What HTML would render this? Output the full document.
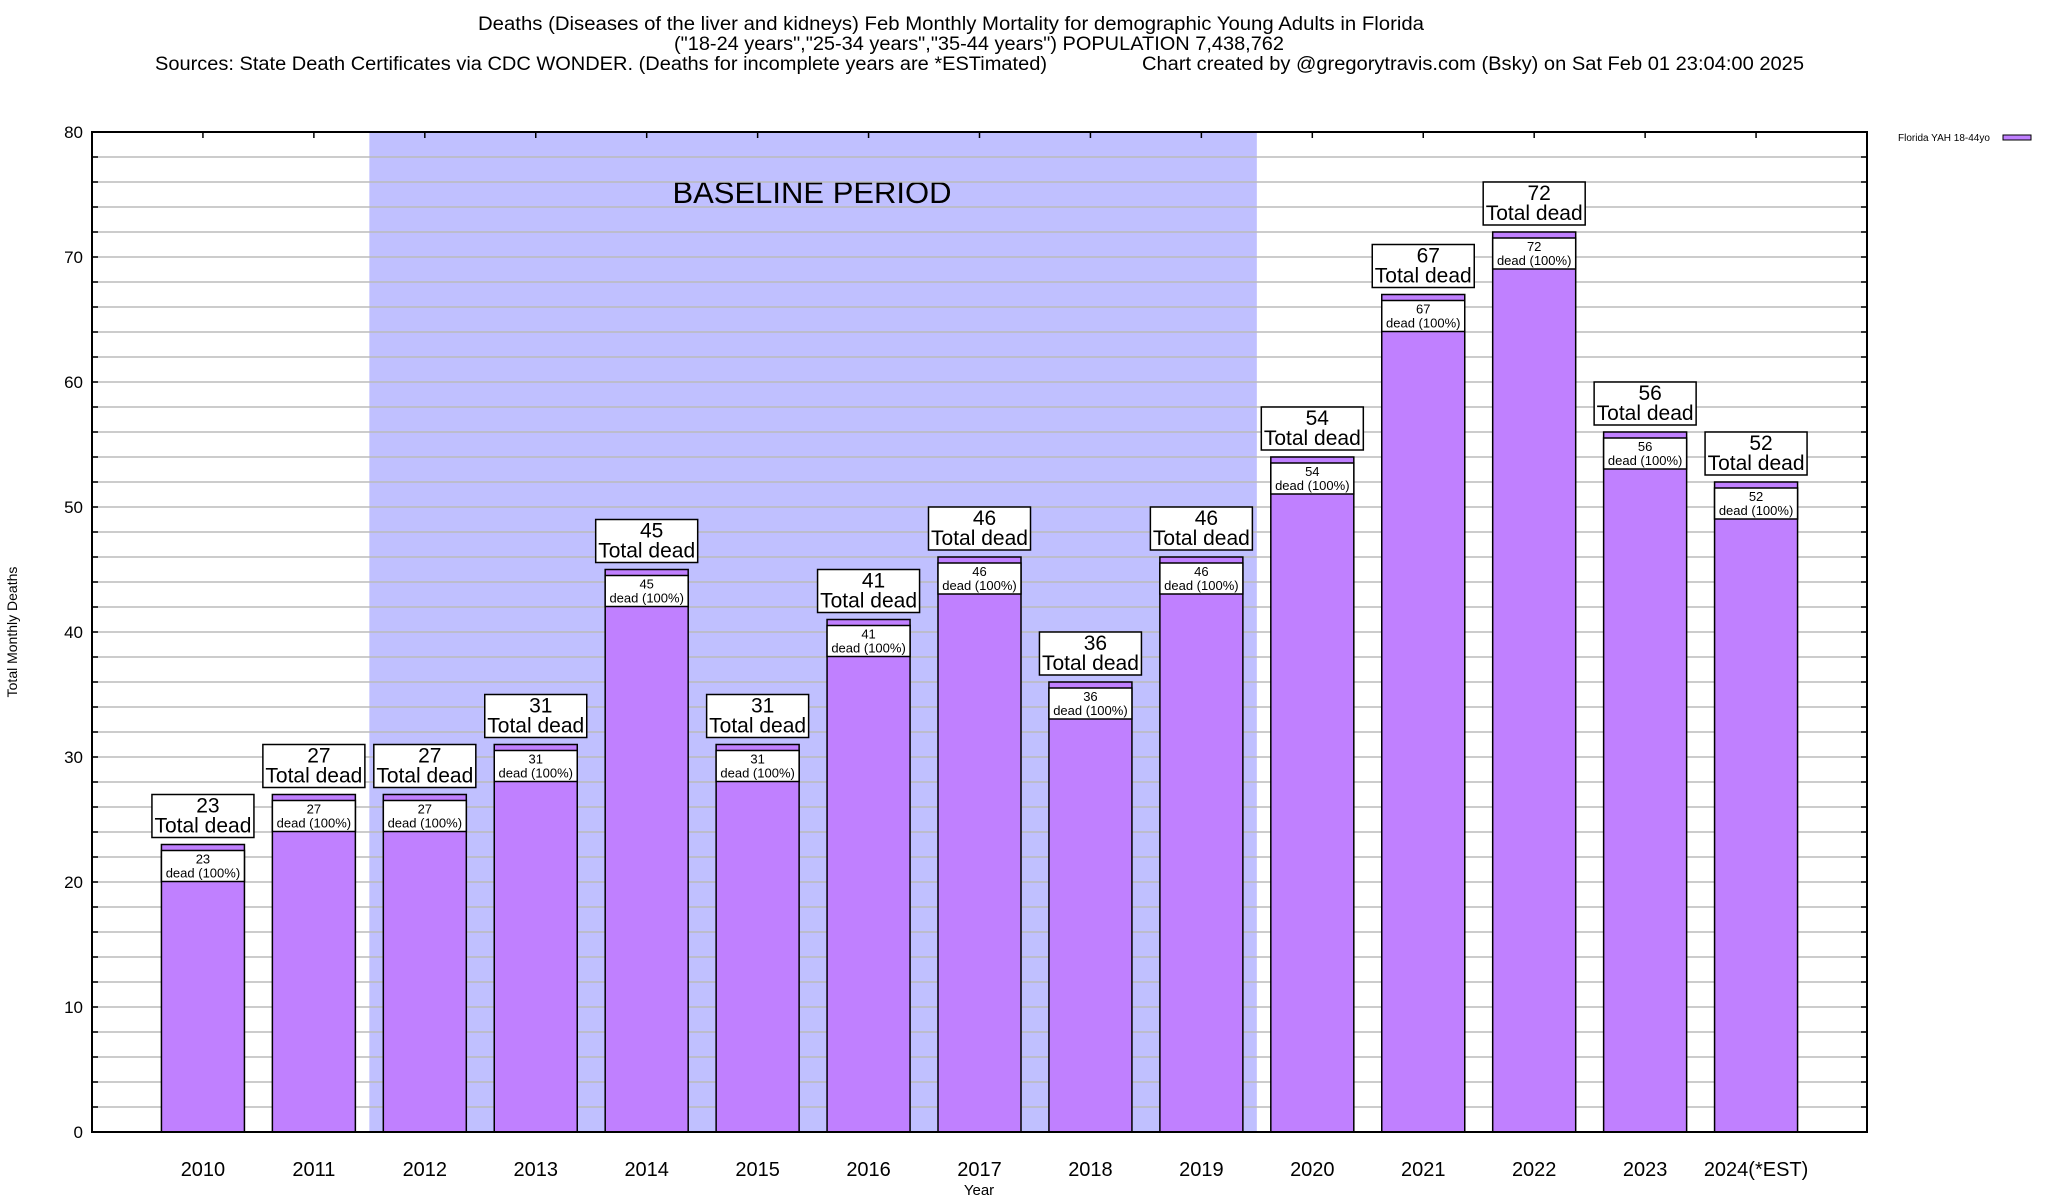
<!DOCTYPE html>
<html><head><meta charset="utf-8"><style>
html,body{margin:0;padding:0;background:#fff}
svg{display:block;font-family:"Liberation Sans",Arial,sans-serif}
</style></head><body>
<svg id="chart" width="2048" height="1200" viewBox="0 0 2048 1200" xmlns="http://www.w3.org/2000/svg">
<g>
<text x="951" y="30" font-size="19" text-anchor="middle" textLength="946" lengthAdjust="spacingAndGlyphs">Deaths (Diseases of the liver and kidneys) Feb Monthly Mortality for demographic Young Adults in Florida</text>
<text x="979" y="50" font-size="19" text-anchor="middle" textLength="610" lengthAdjust="spacingAndGlyphs">("18-24 years","25-34 years","35-44 years") POPULATION 7,438,762</text>
<text x="155" y="70" font-size="19" textLength="892" lengthAdjust="spacingAndGlyphs">Sources: State Death Certificates via CDC WONDER. (Deaths for incomplete years are *ESTimated)</text>
<text x="1142" y="70" font-size="19" textLength="662" lengthAdjust="spacingAndGlyphs">Chart created by @gregorytravis.com (Bsky) on Sat Feb 01 23:04:00 2025</text>
</g>
<g id="shade"></g>
<g id="grid"></g>
<g id="bars"></g>
<g id="axes"></g>
<text x="17" y="632" font-size="14" text-anchor="middle" transform="rotate(-90 17 632)">Total Monthly Deaths</text>
<text x="979" y="1195" font-size="15" text-anchor="middle">Year</text>
<g>
<text x="1898" y="141" font-size="10">Florida YAH 18-44yo</text>
<rect x="2003" y="135" width="28" height="5" fill="#c080ff" stroke="#000" stroke-width="1"/>
</g>
</svg>
<script>
const categories=["2010","2011","2012","2013","2014","2015","2016","2017","2018","2019","2020","2021","2022","2023","2024(*EST)"];
const deaths=[23,27,27,31,45,31,41,46,36,46,54,67,72,56,52];
const yTicks=[0,10,20,30,40,50,60,70,80];
const baselineStart=2, baselineEnd=9;

const NS="http://www.w3.org/2000/svg";
const L=92,R=1867,T=132,B=1132,YMAX=80,STEP=(R-L)/16,BW=83;
const xc=i=>L+(i+1)*STEP;
const y=v=>B-(B-T)*v/YMAX;
function mk(p,tag,attrs,txt){const e=document.createElementNS(NS,tag);for(const k in attrs)e.setAttribute(k,attrs[k]);if(txt!==undefined)e.textContent=txt;p.appendChild(e);return e;}
const shade=document.getElementById('shade'),grid=document.getElementById('grid'),bars=document.getElementById('bars'),axes=document.getElementById('axes');

let sh=mk(shade,'rect',{x:xc(baselineStart-0.5),y:T,width:xc(baselineEnd+0.5)-xc(baselineStart-0.5),height:B-T,fill:'#c0c0ff'});


let bt=mk(shade,'text',{x:812,y:203,'font-size':31,'text-anchor':'middle'},'BASELINE PERIOD');



for(let v=2;v<YMAX;v+=2){
  let g=mk(grid,'line',{x1:L,x2:R,y1:y(v),y2:y(v),stroke:'#bbb','stroke-width':1.5});
  
  
  mk(axes,'line',{x1:L,x2:L+6,y1:y(v),y2:y(v),stroke:'#000','stroke-width':1.5});
  mk(axes,'line',{x1:R-6,x2:R,y1:y(v),y2:y(v),stroke:'#000','stroke-width':1.5});
}
let fr=mk(axes,'rect',{x:L,y:T,width:R-L,height:B-T,fill:'none',stroke:'#000','stroke-width':2});


yTicks.forEach(v=>{
  let t=mk(axes,'text',{x:83,y:y(v)+6,'font-size':17,'text-anchor':'end'},String(v));
  
  
});
categories.forEach((c,i)=>{
  mk(axes,'line',{x1:xc(i),x2:xc(i),y1:T,y2:T+6,stroke:'#000','stroke-width':1.5});
  let t=mk(axes,'text',{x:xc(i),y:1176,'font-size':20,'text-anchor':'middle'},c);
  
  
});

deaths.forEach((v,i)=>{
  const x0=xc(i)-BW/2,yt=y(v);
  let r=mk(bars,'rect',{x:x0,y:yt,width:BW,height:B-yt,fill:'#c080ff',stroke:'#000','stroke-width':1.5});
  
  
  let ib=mk(bars,'rect',{x:x0,y:yt+6,width:BW,height:31,fill:'#fff',stroke:'#000','stroke-width':1.5});
  
  
  let t1=mk(bars,'text',{x:xc(i),y:yt+19,'font-size':13,'text-anchor':'middle'},String(v));
  
  
  let t2=mk(bars,'text',{x:xc(i),y:yt+33,'font-size':13,'text-anchor':'middle'},'dead (100%)');
  
  
  let ob=mk(bars,'rect',{x:xc(i)-51,y:yt-50,width:102,height:43,fill:'#fff',stroke:'#000','stroke-width':1.5});
  
  
  let t3=mk(bars,'text',{x:xc(i)+5,y:yt-32,'font-size':21,'text-anchor':'middle'},String(v));
  
  
  let t4=mk(bars,'text',{x:xc(i),y:yt-12,'font-size':21,'text-anchor':'middle'},'Total dead');
  
  
});
</script>
</body></html>
